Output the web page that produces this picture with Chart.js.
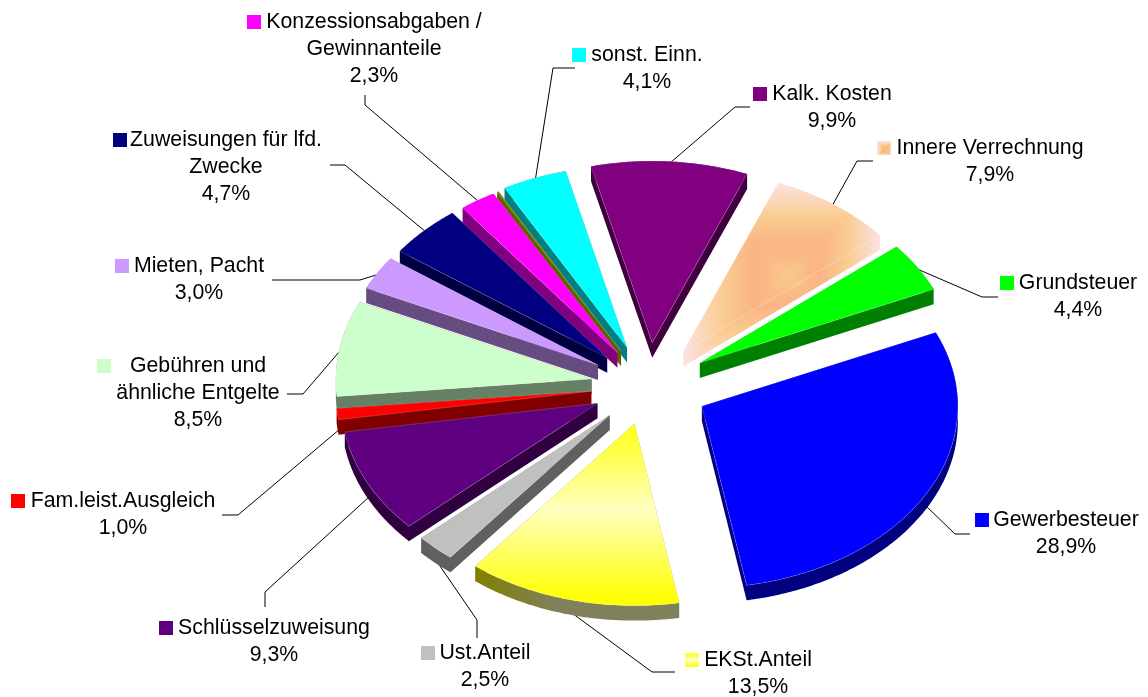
<!DOCTYPE html>
<html><head><meta charset="utf-8">
<style>html,body{margin:0;padding:0;background:#fff}#w{width:1148px;height:697px;position:relative}</style>
<script src="https://cdn.jsdelivr.net/npm/chart.js@4"></script>
</head><body><div id="w"><canvas id="c" width="1148" height="697"></canvas></div>
<script>
const categories=["Gewerbesteuer","EKSt.Anteil","Ust.Anteil","Schlüsselzuweisung","Fam.leist.Ausgleich","Gebühren und\nähnliche Entgelte","Mieten, Pacht","Zuweisungen für lfd.\nZwecke","Konzessionsabgaben /\nGewinnanteile","","sonst. Einn.","Kalk. Kosten","Innere Verrechnung","Grundsteuer"];
const values=[28.9,13.5,2.5,9.3,1.0,8.5,3.0,4.7,2.3,0.1,4.1,9.9,7.9,4.4];
const topColors=["#0000ff","#ffffc0","#c0c0c0","#5f0080","#ff0000","#ccffcc","#cc99ff","#000080","#ff00ff","#808000","#00ffff","#800080","#fac090","#00ff00"];
const wallColors=["#000080","#80805a","#606060","#300040","#800000","#668066","#664c80","#000040","#800080","#606000","#008080","#400040",null,"#008000"];
const explode=[61,55,56,56,57,57,58,57,56,56,58,61,60,61];
const labelX=[1066,758,485,274,123,198,199,226,374,0,647,832,990,1078];
const labelY=[519,659,652,627,500,365,265,139,21,0,54,93,147,282];
const swatchX=[975,685,421,159,11,97,115,113,247,0,572,753,877,1000];
const leaders=[[[970,534],[955,534]],[[675,672],[652,672]],[[477,638],[477,620]],[[265,607],[265,592]],[[222,515],[238,515]],[[287,394],[303,394]],[[272,280],[360,280]],[[330,165],[345,165]],[[365,95],[365,105]],null,[[575,68],[553,68]],[[750,107],[735,107]],[[873,161],[857,161]],[[998,297],[982,297]]];
const CX=648,CY=386,K=0.71,RADIUS=256,DEPTH=15,FONT='21.3px "Liberation Sans"',LINE=27.3;

function geom(a,i){const m=(a.startAngle+a.endAngle)/2,o=explode[i];return{m,ax:a.x+Math.cos(m)*o,ay:a.y+Math.sin(m)*o,r:a.outerRadius};}
// slice outline in screen pixels, taken from the arc element the library laid out
function outline(a,i){const g=geom(a,i),pts=[[g.ax,CY+(g.ay-CY)*K]],n=Math.max(2,Math.ceil((a.endAngle-a.startAngle)/0.01));
 for(let s=0;s<=n;s++){const t=a.startAngle+(a.endAngle-a.startAngle)*s/n;pts.push([g.ax+Math.cos(t)*g.r,CY+(g.ay+Math.sin(t)*g.r-CY)*K]);}
 return pts;}
function addPoly(ctx,p){let area=0;p.forEach((q,n)=>{const r=p[(n+1)%p.length];area+=q[0]*r[1]-r[0]*q[1];});
 const list=area<0?p.slice().reverse():p;list.forEach((q,n)=>n?ctx.lineTo(q[0],q[1]):ctx.moveTo(q[0],q[1]));ctx.closePath();}
function addWall(ctx,pts){pts.forEach((q,n)=>{const r=pts[(n+1)%pts.length];addPoly(ctx,[q,r,[r[0],r[1]+DEPTH],[q[0],q[1]+DEPTH]]);});}
// rectangular "path" gradient painted pixel by pixel into a small offscreen canvas
const pathStops=[[0,[249,201,140]],[.2,[250,186,136]],[.34,[250,180,135]],[.62,[249,204,144]],[1,[252,226,226]]];
function pathGradient(w,h,cx,cy){const cv=document.createElement('canvas');cv.width=w;cv.height=h;const c=cv.getContext('2d'),im=c.createImageData(w,h);
 for(let y=0;y<h;y++)for(let x=0;x<w;x++){
  const dx=x<cx?(cx-x)/cx:(x-cx)/(w-cx),dy=y<cy?(cy-y)/cy:(y-cy)/(h-cy),d=Math.min(1,Math.max(dx,dy));
  let s=0;while(s<pathStops.length-2&&d>pathStops[s+1][0])s++;
  const A=pathStops[s],B=pathStops[s+1],t=(d-A[0])/(B[0]-A[0]),p=(y*w+x)*4;
  for(let n=0;n<3;n++)im.data[p+n]=A[1][n]+(B[1][n]-A[1][n])*t;im.data[p+3]=255;}
 c.putImageData(im,0,0);return cv;}
function drawInnere(ctx,a,i){const pts=outline(a,i);
 ctx.save();ctx.beginPath();addWall(ctx,pts);addPoly(ctx,pts);ctx.clip();
 ctx.drawImage(pathGradient(198,186,106,93),683,182);
 ctx.restore();
 const e=pts[pts.length-1];ctx.beginPath();ctx.moveTo(pts[0][0],pts[0][1]);ctx.lineTo(e[0],e[1]);
 ctx.strokeStyle="rgba(255,255,255,.35)";ctx.lineWidth=.8;ctx.stroke();
}
function fillFor(ctx,a,i,pts){
 if(i===1){const y=pts[0][1],f=ctx.createLinearGradient(0,y,0,y+RADIUS*K);f.addColorStop(0,"#ffff10");f.addColorStop(.47,"#ffffc0");f.addColorStop(.97,"#ffff00");return f;}
 return a.options.backgroundColor;}
function wallFor(ctx,a,i,pts){
 if(i===1){const x=pts[0][0],f=ctx.createLinearGradient(x-157,0,x-80,0);f.addColorStop(0,"#808000");f.addColorStop(1,"#80805a");return f;}
 return wallColors[i];}

const pie3d={id:'pie3d',
 beforeDatasetDraw(chart,args){
  const ctx=chart.ctx,arcs=chart.getDatasetMeta(args.index).data;
  ctx.save();ctx.strokeStyle="#000";ctx.lineWidth=1;
  arcs.forEach((a,i)=>{if(!leaders[i])return;const g=geom(a,i),s=Math.sin(g.m);
   const sx=g.ax+Math.cos(g.m)*g.r*.99,sy=CY+(g.ay+s*g.r*.99-CY)*K+(s>0?DEPTH:0);
   ctx.beginPath();leaders[i].forEach((p,n)=>n?ctx.lineTo(p[0],p[1]):ctx.moveTo(p[0],p[1]));ctx.lineTo(sx,sy);ctx.stroke();});
  ctx.restore();
  const order=arcs.map((a,i)=>i).sort((p,q)=>Math.sin(geom(arcs[p],p).m)-Math.sin(geom(arcs[q],q).m));
  order.forEach(i=>{const a=arcs[i];
   if(i===12){drawInnere(ctx,a,i);return;}
   const pts=outline(a,i);
   ctx.beginPath();addWall(ctx,pts);ctx.fillStyle=wallFor(ctx,a,i,pts);ctx.fill();
   ctx.beginPath();addPoly(ctx,pts);ctx.fillStyle=fillFor(ctx,a,i,pts);ctx.fill();
   ctx.strokeStyle="rgba(255,255,255,.22)";ctx.lineWidth=.8;ctx.stroke();
  });
  return false;
 },
 afterDraw(chart){
  const ctx=chart.ctx;ctx.save();ctx.font=FONT;ctx.textAlign="center";ctx.textBaseline="middle";
  categories.forEach((c,i)=>{if(!c)return;const lines=c.split("\n").concat([values[i].toFixed(1).replace(".",",")+"%"]);
   ctx.fillStyle="#000";
   lines.forEach((t,n)=>ctx.fillText(t,labelX[i],labelY[i]+1+n*LINE));
   const sx=swatchX[i],sy=labelY[i]-6,s=14;let f=topColors[i];
   if(i===1){f=ctx.createLinearGradient(0,sy,0,sy+s);f.addColorStop(0,"#ffff10");f.addColorStop(.5,"#ffffc0");f.addColorStop(1,"#ffff00");}
   if(i===12){ctx.drawImage(pathGradient(s,s,9,9),sx,sy);return;}
   ctx.fillStyle=f;ctx.fillRect(sx,sy,s,s);});
  ctx.restore();
 }};
new Chart(document.getElementById('c'),{type:'pie',
 data:{labels:categories,datasets:[{data:values,backgroundColor:topColors,borderWidth:0,offset:0}]},
 options:{responsive:false,animation:false,rotation:66,radius:RADIUS,
  layout:{padding:{left:Math.max(0,2*(CX-574)),right:Math.max(0,-2*(CX-574)),top:Math.max(0,2*(CY-348.5)),bottom:Math.max(0,-2*(CY-348.5))}},
  plugins:{legend:{display:false},tooltip:{enabled:false}}},
 plugins:[pie3d]});
</script></body></html>
